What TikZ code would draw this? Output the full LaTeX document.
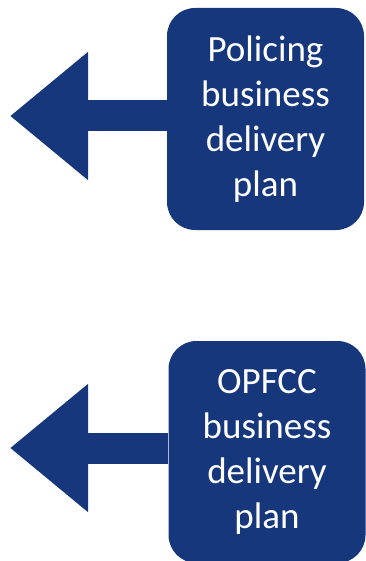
\documentclass[tikz,border=0pt]{standalone}
\usepackage{fontspec}
\setmainfont{Carlito}
\usepackage{tikz}
\usetikzlibrary{arrows.meta}

\definecolor{planblue}{RGB}{23,55,125}

\begin{document}
\begin{tikzpicture}[x=1pt, y=-1pt,
    planbox/.style={fill=planblue, text=white, rounded corners=28pt,
        minimum width=197pt, minimum height=222pt, align=center,
        font=\fontsize{37}{45}\selectfont},
    blockarrow/.style={draw=planblue, line width=31pt,
        -{Triangle[length=78pt, width=123pt, fill=planblue]}}]
    \useasboundingbox (0,0) rectangle (365,561);

    % Policing plan, top
    \node[planbox] (police) at (265.5,119) {Policing\\business\\delivery\\plan};
    \coordinate (policetip) at (10,116);

    % OPFCC plan, bottom
    \node[planbox] (opfcc) at (267,452) {OPFCC\\business\\delivery\\plan};
    \coordinate (opfcctip) at (10,448);

    % Arrows pointing left
    \draw[blockarrow] (police.west |- policetip) -- (policetip);
    \draw[blockarrow] (opfcc.west |- opfcctip) -- (opfcctip);
\end{tikzpicture}
\end{document}
